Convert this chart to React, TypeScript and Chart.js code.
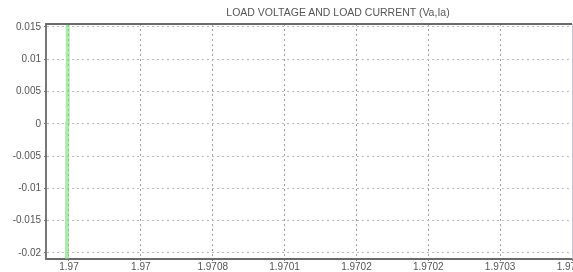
import React, { useEffect, useRef } from "react";
import { Chart, registerables } from "chart.js";

Chart.register(...registerables);

const titleText = "LOAD VOLTAGE AND LOAD CURRENT (Va,Ia)";
const xTickLabels = ["1.97", "1.97", "1.9708", "1.9701", "1.9702", "1.9702", "1.9703", "1.9704"];
const yTickValues = [0.015, 0.01, 0.005, 0, -0.005, -0.01, -0.015, -0.02];
const yTickLabels = ["0.015", "0.01", "0.005", "0", "-0.005", "-0.01", "-0.015", "-0.02"];
// series sampled in tick-index units of the time axis
const seriesTime = [-0.035, -0.03, -0.025, -0.02, -0.015];
const seriesValue = [-0.06, -0.03, 0.0, 0.03, 0.06];

const frame = {
  id: "frame",
  afterDraw(chart: any) {
    const { ctx, chartArea } = chart;
    ctx.save();
    ctx.strokeStyle = "#6a6a6a";
    ctx.lineWidth = 2;
    ctx.beginPath();
    ctx.moveTo(chartArea.left, chartArea.top);
    ctx.lineTo(chartArea.right, chartArea.top);
    ctx.stroke();
    ctx.strokeStyle = "#c8c8d8";
    ctx.lineWidth = 1;
    ctx.beginPath();
    ctx.moveTo(chartArea.right + 0.5, chartArea.top);
    ctx.lineTo(chartArea.right + 0.5, chartArea.bottom);
    ctx.stroke();
    ctx.restore();
  },
};

const tickFont = { family: "Liberation Sans, Arial, sans-serif", size: 10 };

export default function App() {
  const ref = useRef<HTMLCanvasElement>(null);
  useEffect(() => {
    if (!ref.current) return;
    const chart = new Chart(ref.current, {
      type: "line",
      data: {
        datasets: [
          {
            data: seriesTime.map((t, i) => ({ x: t, y: seriesValue[i] })),
            borderColor: "rgba(120,220,120,0.6)",
            borderWidth: 4,
            pointRadius: 0,
            tension: 0,
          },
        ],
      },
      options: {
        animation: false,
        responsive: false,
        maintainAspectRatio: false,
        layout: { padding: { top: 24, right: 1, left: 0, bottom: 0 } },
        plugins: { legend: { display: false }, tooltip: { enabled: false }, title: { display: false } },
        scales: {
          x: {
            type: "linear",
            min: -0.32,
            max: 7,
            afterBuildTicks: (s: any) => {
              s.ticks = xTickLabels.map((_, i) => ({ value: i }));
            },
            afterFit: (s: any) => {
              s.height = 13;
              s.paddingLeft = 0;
              s.paddingRight = 0;
            },
            ticks: {
              autoSkip: false,
              maxRotation: 0,
              padding: 0,
              color: "#555",
              font: tickFont,
              callback: (v: any) => xTickLabels[Math.round(Number(v))] ?? "",
            },
            grid: {
              color: "#a0a0a0",
              tickLength: 2,
              tickColor: "#777",
              lineWidth: 1,
            },
            border: { display: true, color: "#6a6a6a", width: 2, dash: [2, 3] },
          },
          y: {
            type: "linear",
            min: -0.02093,
            max: 0.01546,
            afterBuildTicks: (s: any) => {
              s.ticks = yTickValues.map((v) => ({ value: v }));
            },
            afterFit: (s: any) => {
              s.width = 46;
            },
            ticks: {
              padding: 3,
              color: "#555",
              font: tickFont,
              callback: (v: any) => {
                const i = yTickValues.findIndex((t) => Math.abs(t - Number(v)) < 1e-9);
                return i >= 0 ? yTickLabels[i] : "";
              },
            },
            grid: {
              color: "#bcbcbc",
              tickLength: 2,
              tickColor: "#777",
              lineWidth: 1,
            },
            border: { display: true, color: "#777", width: 2, dash: [2, 3] },
          },
        },
      },
      plugins: [frame],
    });
    return () => chart.destroy();
  }, []);
  return (
    <div style={{ position: "fixed", left: 0, top: 0, width: 573, height: 272, background: "#fff", overflow: "hidden" }}>
      <div
        style={{
          position: "absolute",
          left: 188,
          width: 300,
          top: 6,
          textAlign: "center",
          whiteSpace: "nowrap",
          fontFamily: "Liberation Sans, Arial, sans-serif",
          fontSize: 10.5,
          lineHeight: "12px",
          color: "#555",
          zIndex: 1,
        }}
      >
        {titleText}
      </div>
      <canvas ref={ref} width={573} height={272} style={{ display: "block" }} />
    </div>
  );
}
